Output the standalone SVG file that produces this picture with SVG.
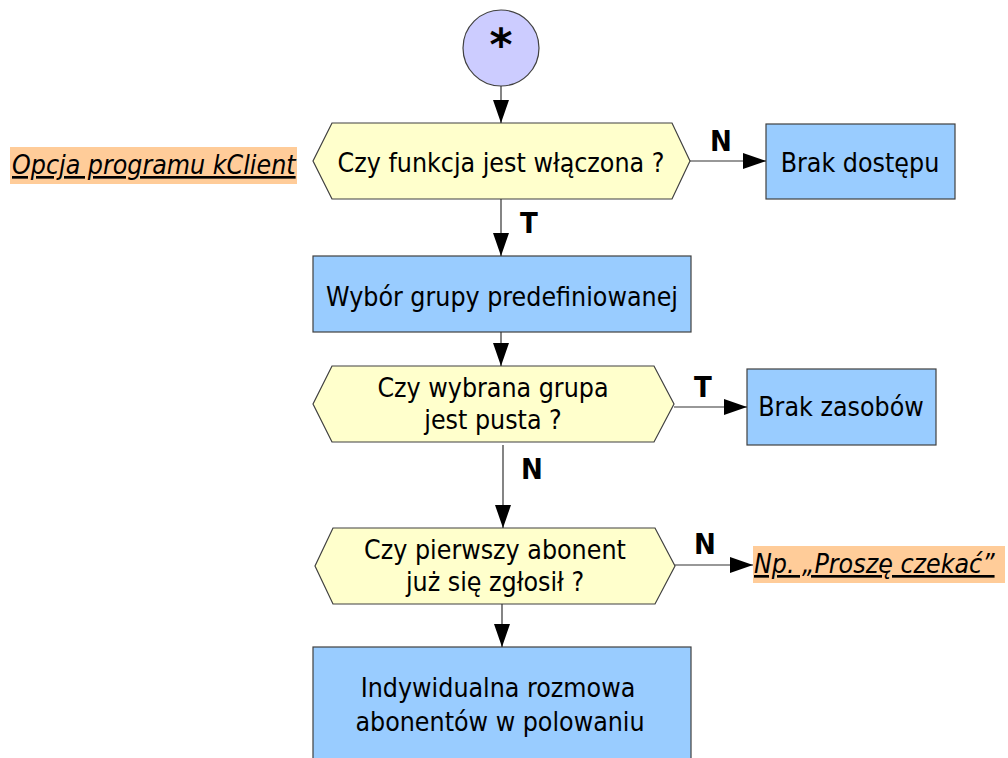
<svg xmlns="http://www.w3.org/2000/svg" width="1008" height="758" viewBox="0 0 1008 758">
<defs>
<marker id="ah" markerUnits="userSpaceOnUse" markerWidth="25" markerHeight="17" refX="23" refY="8" orient="auto">
<path d="M0,0 L23,8 L0,16 z" fill="#000"/>
</marker>
<style>
.t{font-family:"DejaVu Sans Condensed","DejaVu Sans",sans-serif;font-size:26.5px;fill:#000;text-anchor:middle}
.lbl{font-family:"DejaVu Sans Condensed","DejaVu Sans",sans-serif;font-size:29px;font-weight:bold;fill:#000}
.note{font-family:"DejaVu Sans Condensed","DejaVu Sans",sans-serif;font-size:26.5px;font-style:italic;text-decoration:underline;fill:#000}
.hex{fill:#ffffcc;stroke:#404040;stroke-width:1.2}
.box{fill:#99ccff;stroke:#404040;stroke-width:1.2}
.c{stroke:#333;stroke-width:1.2;fill:none;marker-end:url(#ah)}
</style>
</defs>
<rect width="1008" height="758" fill="#fff"/>

<g id="start">
<circle cx="501" cy="48" r="38" fill="#ccccff" stroke="#404040" stroke-width="1.2"/>
<text x="501" y="60" style="font-family:'DejaVu Sans',sans-serif;font-size:44px;font-weight:bold;text-anchor:middle">*</text>
</g>

<g id="note1">
<rect x="10" y="147" width="287" height="37" fill="#ffcc99"/>
<text class="note" x="12" y="174">Opcja programu kClient</text>
</g>

<g id="dec1">
<polygon class="hex" points="313,161 332,123 672,123 690,161 672,199 332,199"/>
<text class="t" x="501" y="172">Czy funkcja jest włączona ?</text>
</g>

<g id="brakDostepu">
<rect class="box" x="766" y="124" width="189" height="75"/>
<text class="t" x="860" y="172">Brak dostępu</text>
</g>

<g id="wybor">
<rect class="box" x="313" y="256" width="378" height="76"/>
<text class="t" x="502" y="306">Wybór grupy predefiniowanej</text>
</g>

<g id="dec2">
<polygon class="hex" points="313,404 332,366 654,366 674,404 654,442 332,442"/>
<text class="t" x="493" y="397">Czy wybrana grupa</text>
<text class="t" x="493" y="429">jest pusta ?</text>
</g>

<g id="brakZasobow">
<rect class="box" x="747" y="369" width="189" height="76"/>
<text class="t" x="841" y="416">Brak zasobów</text>
</g>

<g id="dec3">
<polygon class="hex" points="315,566 333,528 655,528 675,566 655,604 333,604"/>
<text class="t" x="495" y="559">Czy pierwszy abonent</text>
<text class="t" x="495" y="591">już się zgłosił ?</text>
</g>

<g id="note2">
<rect x="753" y="546" width="252" height="37" fill="#ffcc99"/>
<text class="note" x="754" y="573">Np. „Proszę czekać”</text>
</g>

<g id="rozmowa">
<rect class="box" x="313" y="647" width="378" height="120"/>
<text class="t" x="498" y="697">Indywidualna rozmowa</text>
<text class="t" x="500" y="731">abonentów w polowaniu</text>
</g>

<g id="connectors">
<line class="c" x1="501" y1="86" x2="501" y2="123"/>
<line class="c" x1="690" y1="161" x2="766" y2="161"/>
<line class="c" x1="501" y1="199" x2="501" y2="256"/>
<line class="c" x1="501" y1="332" x2="501" y2="366"/>
<line class="c" x1="674" y1="407" x2="747" y2="407"/>
<line class="c" x1="503" y1="445" x2="503" y2="528"/>
<line class="c" x1="675" y1="565" x2="753" y2="565"/>
<line class="c" x1="502" y1="604" x2="502" y2="647"/>
<text class="lbl" x="710" y="151">N</text>
<text class="lbl" x="520" y="233">T</text>
<text class="lbl" x="694" y="397">T</text>
<text class="lbl" x="521" y="479">N</text>
<text class="lbl" x="694" y="554">N</text>
</g>
</svg>
